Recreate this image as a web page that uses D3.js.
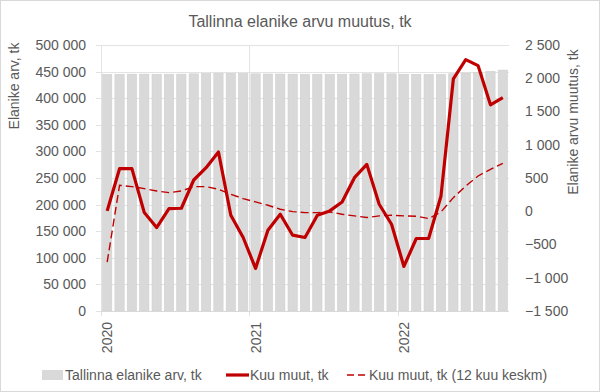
<!DOCTYPE html>
<html>
<head>
<meta charset="utf-8">
<script src="https://cdn.jsdelivr.net/npm/d3@7"></script>
<style>
  body { margin: 0; background: #fff; }
  svg text { font-family: "Liberation Sans", Arial, sans-serif; fill: #595959; }
</style>
</head>
<body>
<div id="chart"></div>
<script>
// Months Jan 2020 .. Sep 2022
const months = [
  "2020-01","2020-02","2020-03","2020-04","2020-05","2020-06","2020-07","2020-08","2020-09","2020-10","2020-11","2020-12",
  "2021-01","2021-02","2021-03","2021-04","2021-05","2021-06","2021-07","2021-08","2021-09","2021-10","2021-11","2021-12",
  "2022-01","2022-02","2022-03","2022-04","2022-05","2022-06","2022-07","2022-08","2022-09"
];

// Population (left axis)
const population = [
  444800, 445000, 445200, 445200, 445000, 445100, 445200, 445800, 446600, 446900, 446800, 446500,
  445800, 445500, 445400, 445200, 445000, 445000, 445000, 445100, 445400, 445900, 446000, 445800,
  445100, 444900, 444800, 445000, 446000, 447200, 448000, 450500, 452800
];

// Monthly change (right axis)
const monthlyChange = [
  5, 640, 640, -20, -245, 40, 45, 470, 655, 890, -60, -395,
  -860, -285, -45, -360, -395, -60, 5, 140, 505, 705, 105, -195,
  -830, -410, -410, 230, 1990, 2280, 2190, 1600, 1710
];

// 12-month moving average of monthly change (right axis)
const avgChange = [
  -765, 390, 370, 340, 305, 280, 305, 370, 370, 330, 255, 190,
  140, 90, 30, -5, -20, -20, -10, -45, -70, -95, -70, -60,
  -70, -75, -110, -10, 205, 380, 530, 630, 720
];

const leftTicks = d3.range(0, 500001, 50000);
const rightTicks = d3.range(-1500, 2501, 500);
const yearLabels = ["2020", "2021", "2022"];

const width = 600, height = 392;
const plot = { left: 101, right: 509, top: 45, bottom: 311 };
const red = "#c00000";

const fmt = v => d3.format(",")(v).replace(/,/g, "\u00a0").replace("-", "-");

const svg = d3.select("#chart").append("svg")
  .attr("width", width)
  .attr("height", height);

// chart border
svg.append("rect")
  .attr("x", 0.5).attr("y", 0.5)
  .attr("width", width - 1).attr("height", height - 1)
  .attr("fill", "#fff").attr("stroke", "#d9d9d9");

const x = d3.scaleBand()
  .domain(months)
  .range([plot.left, plot.right])
  .paddingInner(0.25)
  .paddingOuter(0.125);

const yL = d3.scaleLinear().domain([0, 500000]).range([plot.bottom, plot.top]);
const yR = d3.scaleLinear().domain([-1500, 2500]).range([plot.bottom, plot.top]);

const boundary = d => x(d) - x.step() * 0.125;
const center = d => x(d) + x.bandwidth() / 2;

// horizontal gridlines
svg.append("g")
  .selectAll("line")
  .data(leftTicks)
  .join("line")
  .attr("x1", plot.left - 5).attr("x2", plot.right)
  .attr("y1", d => Math.round(yL(d)) + 0.5)
  .attr("y2", d => Math.round(yL(d)) + 0.5)
  .attr("stroke", "#e3e3e3");

// vertical gridlines at year boundaries
const yearStarts = months.filter(m => m.endsWith("-01"));
svg.append("g")
  .selectAll("line")
  .data(yearStarts)
  .join("line")
  .attr("x1", d => Math.round(boundary(d)) + 0.5)
  .attr("x2", d => Math.round(boundary(d)) + 0.5)
  .attr("y1", plot.top)
  .attr("y2", plot.bottom + 5)
  .attr("stroke", "#e3e3e3");

// bars
svg.append("g")
  .selectAll("rect")
  .data(months)
  .join("rect")
  .attr("x", d => x(d))
  .attr("width", x.bandwidth())
  .attr("y", (d, i) => yL(population[i]))
  .attr("height", (d, i) => yL(0) - yL(population[i]))
  .attr("fill", "#d9d9d9")
  .attr("stroke", "#cfcfcf")
  .attr("stroke-width", 0.6);

// x baseline
svg.append("line")
  .attr("x1", plot.left).attr("x2", plot.right)
  .attr("y1", plot.bottom + 0.5).attr("y2", plot.bottom + 0.5)
  .attr("stroke", "#d9d9d9");

// dashed average line
svg.append("path")
  .datum(avgChange)
  .attr("d", d3.line().x((d, i) => center(months[i])).y(d => yR(d)))
  .attr("fill", "none")
  .attr("stroke", red)
  .attr("stroke-width", 1.4)
  .attr("stroke-dasharray", "8,4");

// monthly change line
svg.append("path")
  .datum(monthlyChange)
  .attr("d", d3.line().x((d, i) => center(months[i])).y(d => yR(d)))
  .attr("fill", "none")
  .attr("stroke", red)
  .attr("stroke-width", 3.2)
  .attr("stroke-linejoin", "round");

// left tick labels
svg.append("g")
  .selectAll("text")
  .data(leftTicks)
  .join("text")
  .attr("x", 86)
  .attr("y", d => yL(d))
  .attr("dy", "0.35em")
  .attr("text-anchor", "end")
  .attr("font-size", 14)
  .text(d => fmt(d));

// right tick labels
svg.append("g")
  .selectAll("text")
  .data(rightTicks)
  .join("text")
  .attr("x", 525)
  .attr("y", d => yR(d))
  .attr("dy", "0.35em")
  .attr("font-size", 14)
  .text(d => fmt(d));

// year labels (rotated)
svg.append("g")
  .selectAll("text")
  .data(yearLabels)
  .join("text")
  .attr("transform", d => `translate(${center(d + "-01") + 5},${plot.bottom + 11}) rotate(-90)`)
  .attr("text-anchor", "end")
  .attr("font-size", 14)
  .text(d => d);

// title
svg.append("text")
  .attr("x", 300).attr("y", 27)
  .attr("text-anchor", "middle")
  .attr("font-size", 16)
  .text("Tallinna elanike arvu muutus, tk");

// axis titles
svg.append("text")
  .attr("transform", "translate(19,86) rotate(-90)")
  .attr("text-anchor", "middle")
  .attr("font-size", 14)
  .text("Elanike arv, tk");

svg.append("text")
  .attr("transform", "translate(578,122) rotate(-90)")
  .attr("text-anchor", "middle")
  .attr("font-size", 14)
  .text("Elanike arvu muutus, tk");

// legend
const legend = svg.append("g").attr("transform", "translate(0,375)");
legend.append("rect")
  .attr("x", 42).attr("y", -5).attr("width", 21).attr("height", 10)
  .attr("fill", "#d9d9d9");
legend.append("text")
  .attr("x", 65).attr("dy", "0.35em").attr("font-size", 14)
  .text("Tallinna elanike arv, tk");
legend.append("line")
  .attr("x1", 226).attr("x2", 249).attr("y1", 0).attr("y2", 0)
  .attr("stroke", red).attr("stroke-width", 3.2);
legend.append("text")
  .attr("x", 250).attr("dy", "0.35em").attr("font-size", 14)
  .text("Kuu muut, tk");
legend.append("line")
  .attr("x1", 347).attr("x2", 368).attr("y1", 0).attr("y2", 0)
  .attr("stroke", red).attr("stroke-width", 1.4)
  .attr("stroke-dasharray", "7,4");
legend.append("text")
  .attr("x", 369).attr("dy", "0.35em").attr("font-size", 14)
  .text("Kuu muut, tk (12 kuu keskm)");
</script>
</body>
</html>
